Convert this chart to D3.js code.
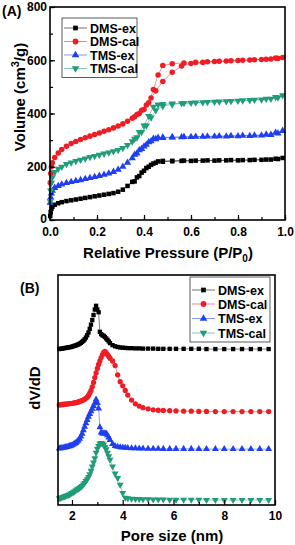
<!DOCTYPE html>
<html>
<head>
<meta charset="utf-8">
<script src="https://cdn.jsdelivr.net/npm/d3@7"></script>
<style>
  body { margin: 0; background: #fff; }
  svg { display: block; font-family: "Liberation Sans", Arial, sans-serif; font-weight: bold; }
</style>
</head>
<body>
<svg id="chart" width="295" height="545"></svg>
<script>
// (A) N2 isotherms: relative pressure, adsorption then desorption branch
const pAds = [0.001, 0.003, 0.006, 0.01, 0.02, 0.035, 0.05, 0.07, 0.09, 0.11, 0.13, 0.15, 0.17, 0.19, 0.21, 0.23, 0.25, 0.27, 0.29, 0.31, 0.33, 0.35, 0.37, 0.39, 0.41, 0.43, 0.45, 0.48, 0.52, 0.56, 0.6, 0.65, 0.7, 0.75, 0.8, 0.85, 0.9, 0.94, 0.97, 0.99]
const pDes = [0.96, 0.92, 0.87, 0.82, 0.77, 0.72, 0.67, 0.62, 0.57, 0.52, 0.48, 0.46, 0.44, 0.42, 0.40, 0.38, 0.36]

const dmsExAds = [15, 30, 42, 50, 57, 63, 67, 71, 74, 77, 80, 83, 86, 89, 92, 95, 98, 101, 106, 114, 128, 143, 160, 178, 195, 207, 215, 219, 221, 222, 222, 223, 223, 224, 224, 225, 226, 227, 229, 233]
const dmsCalAds = [140, 175, 200, 215, 235, 252, 265, 277, 287, 295, 302, 309, 315, 321, 327, 333, 339, 346, 353, 361, 371, 382, 396, 412, 432, 458, 485, 520, 555, 578, 588, 592, 595, 597, 599, 601, 603, 605, 607, 610]
const tmsExAds = [65, 85, 100, 110, 121, 128, 134, 139, 143, 147, 150, 154, 158, 162, 166, 170, 175, 181, 189, 200, 215, 232, 250, 267, 283, 296, 304, 308, 310, 311, 312, 313, 314, 314, 315, 316, 318, 320, 325, 335]
const tmsCalAds = [70, 110, 140, 160, 180, 192, 200, 210, 216, 221, 226, 231, 236, 240, 245, 249, 253, 258, 263, 270, 281, 295, 310, 330, 355, 385, 412, 428, 434, 438, 440, 442, 444, 446, 448, 450, 452, 455, 460, 468]

const dmsExDes = [230, 227, 226, 225, 225, 224, 224, 223, 223, 222, 222, 220, 212, 200, 185, 165, 145]
const dmsCalDes = [608, 604, 602, 600, 598, 596, 594, 592, 590, 587, 580, 545, 490, 440, 415, 400, 388]
const tmsExDes = [328, 321, 318, 317, 316, 315, 314, 313, 312, 311, 310, 309, 305, 292, 276, 262, 245]
const tmsCalDes = [462, 455, 451, 449, 447, 445, 443, 441, 439, 437, 435, 433, 425, 390, 355, 330, 305]

// (B) pore size distributions, stacked with offsets
const poreSize = [1.5, 1.55, 1.6, 1.65, 1.7, 1.75, 1.8, 1.85, 1.9, 1.95, 2.0, 2.05, 2.1, 2.15, 2.2, 2.25, 2.3, 2.35, 2.4, 2.45, 2.5, 2.55, 2.6, 2.65, 2.7, 2.75, 2.8, 2.85, 2.9, 2.95, 3.0, 3.05, 3.1, 3.15, 3.2, 3.25, 3.3, 3.35, 3.4, 3.45, 3.5, 3.6, 3.7, 3.8, 3.9, 4.0, 4.1, 4.2, 4.35, 4.5, 4.65, 4.8, 5.0, 5.2, 5.4, 5.6, 5.85, 6.1, 6.4, 6.7, 7.0, 7.3, 7.65, 8.0, 8.35, 8.7, 9.05, 9.4, 9.75]
const dmsExPsd = [0.00, 0.01, 0.02, 0.03, 0.04, 0.05, 0.06, 0.07, 0.08, 0.09,
  0.10, 0.12, 0.14, 0.16, 0.18, 0.20, 0.23, 0.27, 0.31, 0.36,
  0.42, 0.50, 0.60, 0.72, 0.88, 1.06, 1.26, 1.48, 1.72, 1.88,
  1.72, 1.60, 0.75, 0.65, 0.60, 0.57, 0.52, 0.46, 0.40, 0.33,
  0.26, 0.17, 0.12, 0.09, 0.07, 0.06, 0.05, 0.04, 0.04, 0.03, 0.03, 0.02,
  0.02, 0.02, 0.01, 0.01, 0.01, 0.01, 0.01, 0.01, 0.01, 0, 0, 0, 0, 0, 0, 0, 0]
const dmsCalPsd = [0.29, 0.30, 0.31, 0.31, 0.32, 0.33, 0.33, 0.34, 0.35, 0.35,
  0.36, 0.37, 0.38, 0.39, 0.40, 0.42, 0.44, 0.46, 0.48, 0.51,
  0.54, 0.58, 0.63, 0.70, 0.80, 0.92, 1.08, 1.27, 1.48, 1.68,
  1.88, 2.05, 2.20, 2.35, 2.48, 2.58, 2.62, 2.55, 2.48, 2.40,
  2.32, 2.20, 2.00, 1.60, 1.30, 1.12, 0.92, 0.72, 0.50, 0.34, 0.24, 0.17,
  0.12, 0.08, 0.06, 0.05, 0.04, 0.03, 0.02, 0.02, 0.01, 0.01, 0, 0, 0, 0, 0, 0, 0]
const tmsExPsd = [0.03, 0.04, 0.05, 0.06, 0.07, 0.08, 0.09, 0.11, 0.13, 0.15,
  0.17, 0.20, 0.23, 0.27, 0.32, 0.38, 0.45, 0.55, 0.67, 0.82,
  0.97, 1.12, 1.27, 1.41, 1.53, 1.65, 1.76, 1.88, 1.99, 2.16,
  2.00, 1.77, 0.95, 0.72, 0.68, 0.68, 0.69, 0.68, 0.60, 0.50,
  0.40, 0.22, 0.14, 0.10, 0.08, 0.07, 0.06, 0.05, 0.04, 0.04, 0.03, 0.03,
  0.02, 0.02, 0.02, 0.01, 0.01, 0.01, 0.01, 0.01, 0, 0, 0, 0, 0, 0, 0, 0, 0]
const tmsCalPsd = [0.07, 0.09, 0.11, 0.13, 0.15, 0.17, 0.19, 0.21, 0.24, 0.27,
  0.30, 0.33, 0.37, 0.41, 0.45, 0.49, 0.52, 0.56, 0.61, 0.67,
  0.74, 0.82, 0.90, 1.00, 1.12, 1.27, 1.45, 1.63, 1.81, 2.05,
  2.22, 2.35, 2.45, 2.47, 2.45, 2.40, 2.30, 2.20, 2.05, 1.90,
  1.75, 1.45, 1.15, 0.95, 0.66, 0.30, 0.10, 0.07, 0.05, 0.04, 0.04, 0.03,
  0.03, 0.02, 0.02, 0.02, 0.01, 0.01, 0.01, 0.01, 0.01, 0, 0, 0, 0, 0, 0, 0, 0]
const psdOffsets = [6.78, 4.06, 2.43, 0.22]

const seriesNames = ['DMS-ex', 'DMS-cal', 'TMS-ex', 'TMS-cal']
const colors = ['#000000', '#f01c24', '#1f3ff0', '#1f9c78']
const shapes = ['square', 'circle', 'up', 'down']

const svg = d3.select('#chart')

function marker (g, shape, color, size) {
    let sym = shape === 'square' ? d3.symbolSquare : shape === 'circle' ? d3.symbolCircle : d3.symbolTriangle
    let area = shape === 'square' ? size * 0.85 : shape === 'circle' ? size : size * 0.95
    let p = g.append('path')
        .attr('d', d3.symbol(sym, area)())
        .attr('fill', color)
    if (shape === 'down') p.attr('transform', 'rotate(180)')
    return p
}

function drawSeries (g, pts, x, y, i, size) {
    g.append('path')
        .datum(pts)
        .attr('fill', 'none')
        .attr('stroke', colors[i])
        .attr('stroke-opacity', 0.55)
        .attr('stroke-width', 0.9)
        .attr('d', d3.line().x(d => x(d[0])).y(d => y(d[1])))
    g.selectAll(null)
        .data(pts)
        .enter()
        .append('g')
        .attr('transform', d => 'translate(' + x(d[0]) + ',' + y(d[1]) + ')')
        .each(function () { marker(d3.select(this), shapes[i], colors[i], size) })
}

function legend (x0, y0, w, rows, fs) {
    let lg = svg.append('g')
    lg.append('rect')
        .attr('x', x0).attr('y', y0).attr('width', w).attr('height', rows[rows.length - 1] - y0 + 9)
        .attr('fill', '#fff').attr('stroke', '#333').attr('stroke-width', 0.8)
    seriesNames.forEach((name, i) => {
        let ly = rows[i]
        lg.append('line')
            .attr('x1', x0 + 2).attr('x2', x0 + 25).attr('y1', ly).attr('y2', ly)
            .attr('stroke', colors[i]).attr('stroke-opacity', 0.55).attr('stroke-width', 1)
        let m = lg.append('g').attr('transform', 'translate(' + (x0 + 13.5) + ',' + ly + ')')
        marker(m, shapes[i], colors[i], 26)
        lg.append('text')
            .attr('x', x0 + 28).attr('y', ly + 4.5)
            .attr('font-size', fs)
            .text(name)
    })
}

// ---------- panel A ----------
const xA = d3.scaleLinear().domain([0, 1]).range([50, 285])
const yA = d3.scaleLinear().domain([0, 800]).range([220, 7])

const gA = svg.append('g')
const adsList = [dmsExAds, dmsCalAds, tmsExAds, tmsCalAds]
const desList = [dmsExDes, dmsCalDes, tmsExDes, tmsCalDes]
adsList.forEach((ads, i) => {
    let pts = pAds.map((p, k) => [p, ads[k]]).concat(pDes.map((p, k) => [p, desList[i][k]]))
    drawSeries(gA, pts, xA, yA, i, 24)
})

svg.append('rect')
    .attr('x', 50).attr('y', 7).attr('width', 235).attr('height', 213)
    .attr('fill', 'none').attr('stroke', '#000').attr('stroke-width', 1.6)

let axA = svg.append('g').attr('transform', 'translate(0,220)')
axA.call(d3.axisBottom(xA).tickValues(d3.range(0, 1.01, 0.1)).tickSize(-3).tickFormat(''))
axA.append('g').call(d3.axisBottom(xA).tickValues([0, 0.2, 0.4, 0.6, 0.8, 1.0]).tickSize(-5).tickPadding(7).tickFormat(d3.format('.1f')))
let ayA = svg.append('g').attr('transform', 'translate(50,0)')
ayA.call(d3.axisLeft(yA).tickValues(d3.range(0, 801, 100)).tickSize(-3).tickFormat(''))
ayA.append('g').call(d3.axisLeft(yA).tickValues([0, 200, 400, 600, 800]).tickSize(-5).tickPadding(3))

// ---------- panel B ----------
const xB = d3.scaleLinear().domain([1.45, 10]).range([58, 275])
const yB = d3.scaleLinear().domain([0, 10]).range([505, 275])

const gB = svg.append('g')
const psdList = [dmsExPsd, dmsCalPsd, tmsExPsd, tmsCalPsd]
psdList.forEach((vals, i) => {
    let pts = poreSize.map((d, k) => [d, vals[k] + psdOffsets[i]])
    drawSeries(gB, pts, xB, yB, i, 22)
})

svg.append('rect')
    .attr('x', 58).attr('y', 275).attr('width', 217).attr('height', 230)
    .attr('fill', 'none').attr('stroke', '#000').attr('stroke-width', 1.6)

let axB = svg.append('g').attr('transform', 'translate(0,505)')
axB.call(d3.axisBottom(xB).tickValues([3, 5, 7, 9]).tickSize(-3).tickFormat(''))
axB.append('g').call(d3.axisBottom(xB).tickValues([2, 4, 6, 8, 10]).tickSize(-5).tickPadding(6))

svg.selectAll('.domain').remove()
svg.selectAll('.tick line').attr('stroke-width', 1.2)
svg.selectAll('.tick text').attr('font-size', 12).attr('font-weight', 'bold').attr('font-family', '"Liberation Sans", Arial, sans-serif').attr('fill', '#000')
// keep the y "0" clear of the x "0.0" in the shared corner
ayA.selectAll('.tick text').filter(d => d === 0).attr('dy', '0.2em')

legend(62, 18, 75, [28, 41.5, 55, 68.5], 12.5)
legend(190, 277, 80, [290, 304, 318.5, 333], 12.5)

// titles
svg.append('text').attr('x', 2).attr('y', 16).attr('font-size', 14).text('(A)')
svg.append('text').attr('x', 20).attr('y', 293).attr('font-size', 14).text('(B)')

let ty = svg.append('text')
    .attr('transform', 'translate(25,97) rotate(-90)')
    .attr('text-anchor', 'middle')
    .attr('font-size', 15)
ty.append('tspan').text('Volume (cm')
ty.append('tspan').attr('font-size', 11).attr('dy', -6).text('3')
ty.append('tspan').attr('dy', 6).text('/g)')

let tx = svg.append('text')
    .attr('x', 168).attr('y', 258)
    .attr('text-anchor', 'middle')
    .attr('font-size', 15)
tx.append('tspan').text('Relative Pressure (P/P')
tx.append('tspan').attr('font-size', 10).attr('dy', 4).text('0')
tx.append('tspan').attr('dy', -4).text(')')

svg.append('text')
    .attr('transform', 'translate(40,388) rotate(-90)')
    .attr('text-anchor', 'middle')
    .attr('font-size', 15)
    .text('dV/dD')

svg.append('text')
    .attr('x', 172).attr('y', 541)
    .attr('text-anchor', 'middle')
    .attr('font-size', 15)
    .text('Pore size (nm)')
</script>
</body>
</html>
